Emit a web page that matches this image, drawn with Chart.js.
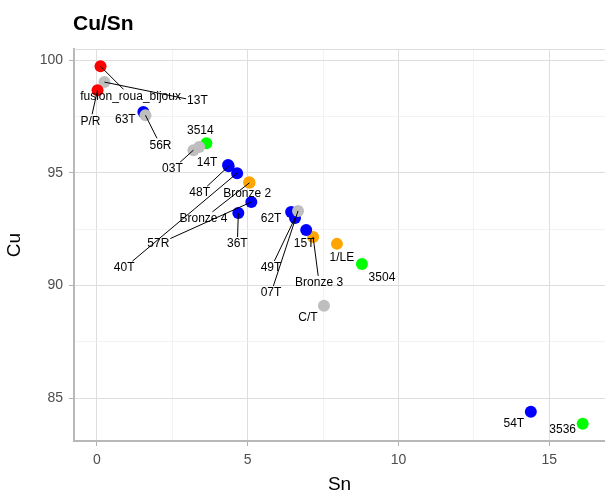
<!DOCTYPE html>
<html><head><meta charset="utf-8">
<script src="https://cdn.jsdelivr.net/npm/chart.js@4"></script>
<style>html,body{margin:0;padding:0;background:#fff}#wrap{width:605px;height:497px}</style>
</head><body><div id="wrap"><canvas id="c" width="605" height="497"></canvas></div>
<script>
// ---- data ----
const chartTitle = 'Cu/Sn';
const xTitle = 'Sn';
const yTitle = 'Cu';
const names  = ['Bronze 2','Bronze 4','Bronze 3','1/LE', '3514','3504','3536', '63T','14T','48T','40T','57R','36T','62T','49T','15T','54T', '13T','56R','03T','','07T','C/T', 'fusion_roua_bijoux','P/R'];
const sn     = [5.05,5.06,7.17,7.96, 3.63,8.79,16.11, 1.54,4.35,4.37,4.65,5.12,4.69,6.44,6.57,6.94,14.39, 0.25,1.61,3.20,3.39,6.67,7.53, 0.12,0.02];
const cu     = [94.59,94.56,92.16,91.85, 96.32,90.96,83.87, 97.70,95.35,95.30,94.99,93.71,93.22,93.27,93.00,92.47,84.40, 99.03,97.56,96.01,96.15,93.31,89.10, 99.73,98.67];
const groups = ['D','D','D','D', 'E','E','E', 'C','C','C','C','C','C','C','C','C','C', 'B','B','B','B','B','B', 'A','A'];
// Chart.js paints dataset 0 last (on top)
const groupOrder = ['A','B','C','E','D'];
const xMajorTicks = [0,5,10,15];
const xMinorTicks = [2.5,7.5,12.5];
const yMajorTicks = [85,90,95,100];
const yMinorTicks = [87.5,92.5,97.5];

// ---- styles / layout (kept separate from data) ----
const groupColors = {A:'#ff0000', B:'#bebebe', C:'#0000ff', D:'#ffa500', E:'#00ff00'};
// label offsets in pixels relative to each point (label centre)
const labelDx = [-2,-46,6,5, -6,20,-20, -18,-21,-29,-113,-93,-1,-20,-24,-2,-17, 93,15,-21,0,-27,-16, 30,-7];
const labelDy = [12,36,46,14, -12,14,6, 8,-2,27,95,42,31,7,50,14,12, 19,30,19,0,82,12, 30,31];
const minSegment = 14;

const FONT = '"Liberation Sans", Arial, Helvetica, sans-serif';

const datasets = groupOrder.map(g => {
  const idx = names.map((n,i)=>i).filter(i => groups[i] === g);
  return {
    label: g,
    data: idx.map(i => ({x: sn[i], y: cu[i], i})),
    backgroundColor: groupColors[g],
    borderColor: groupColors[g],
    borderWidth: 0,
    pointRadius: 6,
    pointHoverRadius: 6,
    clip: false
  };
});

const isMajor = (v, arr) => arr.some(a => Math.abs(a - v) < 1e-6);

const labelPlugin = {
  id: 'repelLabels',
  afterDatasetsDraw(chart) {
    const ctx = chart.ctx;
    ctx.save();
    ctx.font = '12px ' + FONT;
    const items = [];
    chart.data.datasets.forEach((ds, di) => {
      const meta = chart.getDatasetMeta(di);
      ds.data.forEach((d, j) => {
        const i = d.i;
        if (!names[i]) return;
        const el = meta.data[j];
        items.push({px: el.x, py: el.y, lx: el.x + labelDx[i], ly: el.y + labelDy[i], text: names[i]});
      });
    });
    ctx.strokeStyle = '#000';
    ctx.lineWidth = 1;
    items.forEach(it => {
      const w = ctx.measureText(it.text).width / 2 + 1;
      const h = 7;
      const dx = it.px - it.lx, dy = it.py - it.ly;
      let t = 1;
      if (Math.abs(dx) > 0) t = Math.min(t, w / Math.abs(dx));
      if (Math.abs(dy) > 0) t = Math.min(t, h / Math.abs(dy));
      const ex = it.lx + dx * t, ey = it.ly + dy * t;
      const len = Math.hypot(ex - it.px, ey - it.py);
      if (t < 1 && len > minSegment) {
        ctx.beginPath();
        ctx.moveTo(it.px, it.py);
        ctx.lineTo(ex, ey);
        ctx.stroke();
      }
    });
    ctx.fillStyle = '#000';
    ctx.textAlign = 'center';
    ctx.textBaseline = 'middle';
    items.forEach(it => ctx.fillText(it.text, it.lx, it.ly));
    ctx.restore();
  }
};

const framePlugin = {
  id: 'frame',
  beforeDatasetsDraw(chart) {
    const {ctx, chartArea} = chart;
    ctx.save();
    ctx.strokeStyle = '#dcdcdc';
    ctx.lineWidth = 1;
    ctx.beginPath();
    ctx.moveTo(chartArea.left, chartArea.top + 0.5);
    ctx.lineTo(chartArea.right, chartArea.top + 0.5);
    ctx.stroke();
    ctx.restore();
  },
  afterDraw(chart) {
    const ctx = chart.ctx;
    ctx.save();
    ctx.fillStyle = '#000';
    ctx.font = 'bold 21px ' + FONT;
    ctx.textAlign = 'left';
    ctx.textBaseline = 'alphabetic';
    ctx.fillText(chartTitle, 73, 30);
    ctx.restore();
  }
};

const gridColor = c => isMajor(c.tick.value, c.scale.axis === 'x' ? xMajorTicks : yMajorTicks) ? '#dedede' : '#eeeeee';
const tickColor = c => isMajor(c.tick.value, c.scale.axis === 'x' ? xMajorTicks : yMajorTicks) ? '#b3b3b3' : 'rgba(0,0,0,0)';

new Chart(document.getElementById('c'), {
  type: 'scatter',
  data: {datasets},
  options: {
    responsive: false,
    animation: false,
    devicePixelRatio: 1,
    layout: {autoPadding: false, padding: {top: 49, left: 0, right: 0, bottom: 0}},
    plugins: {legend: {display: false}, tooltip: {enabled: false}, title: {display: false}},
    scales: {
      x: {
        type: 'linear', min: -0.76, max: 16.85,
        afterBuildTicks: s => { s.ticks = xMajorTicks.concat(xMinorTicks).sort((a,b)=>a-b).map(v => ({value: v})); },
        afterFit: s => { s.height = 56; },
        ticks: {autoSkip: false, maxRotation: 0, padding: 6, color: '#4d4d4d', font: {family: FONT, size: 14},
          callback: v => isMajor(v, xMajorTicks) ? String(v) : ''},
        grid: {color: gridColor, tickColor: tickColor, tickLength: 5, lineWidth: c => isMajor(c.tick.value, xMajorTicks) ? 1 : 0.7},
        border: {display: true, color: '#b8b8b8', width: 2},
        title: {display: true, text: xTitle, color: '#000', font: {family: FONT, size: 19}, padding: {top: 0, bottom: 1}}
      },
      y: {
        type: 'linear', min: 83.1, max: 100.5,
        afterBuildTicks: s => { s.ticks = yMajorTicks.concat(yMinorTicks).sort((a,b)=>a-b).map(v => ({value: v})); },
        afterFit: s => { s.width = 74; },
        ticks: {autoSkip: false, padding: 6, color: '#4d4d4d', font: {family: FONT, size: 14},
          callback: v => isMajor(v, yMajorTicks) ? String(v) : ''},
        grid: {color: gridColor, tickColor: tickColor, tickLength: 5, lineWidth: c => isMajor(c.tick.value, yMajorTicks) ? 1 : 0.7},
        border: {display: true, color: '#b8b8b8', width: 2},
        title: {display: true, text: yTitle, color: '#000', font: {family: FONT, size: 19}, padding: {top: 3, bottom: 0}}
      }
    }
  },
  plugins: [framePlugin, labelPlugin]
});
</script>
</body></html>
